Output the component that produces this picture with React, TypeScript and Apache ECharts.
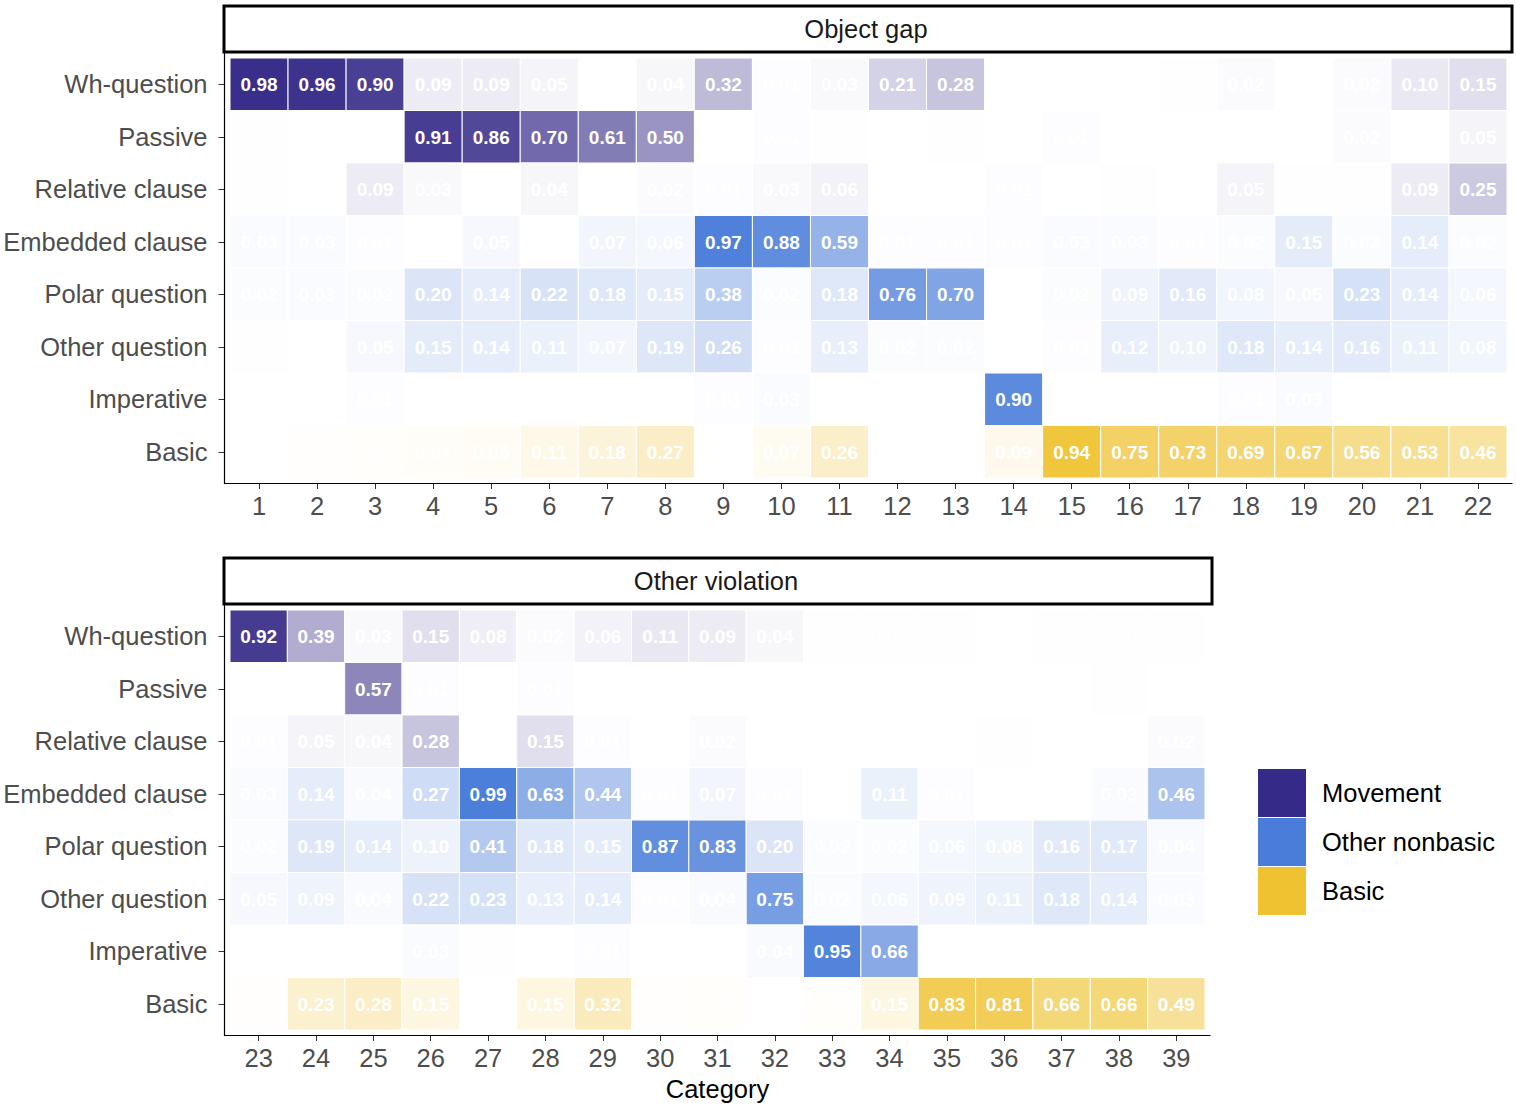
import React, { useEffect, useRef } from "react";
import * as echarts from "echarts";

// Row labels (top to bottom) and the group each construction belongs to
const constructions = [
  "Wh-question",
  "Passive",
  "Relative clause",
  "Embedded clause",
  "Polar question",
  "Other question",
  "Imperative",
  "Basic",
];
const constructionGroups = [
  "Movement",
  "Movement",
  "Movement",
  "Other nonbasic",
  "Other nonbasic",
  "Other nonbasic",
  "Other nonbasic",
  "Basic",
];
const groupNames = ["Movement", "Other nonbasic", "Basic"];
const groupColors = ["#352A87", "#4A7DD9", "#EFC231"];

// Panel "Object gap": categories 1-22 (null = no cell)
const objectGapCategories = ["1", "2", "3", "4", "5", "6", "7", "8", "9", "10", "11", "12", "13", "14", "15", "16", "17", "18", "19", "20", "21", "22"];
const ogWhQuestion = [0.98, 0.96, 0.9, 0.09, 0.09, 0.05, null, 0.04, 0.32, 0.01, 0.03, 0.21, 0.28, null, null, null, 0.003, 0.02, null, 0.02, 0.1, 0.15];
const ogPassive = [0.003, null, null, 0.91, 0.86, 0.7, 0.61, 0.5, null, 0.01, 0.003, null, 0.003, null, 0.01, null, null, null, null, 0.02, null, 0.05];
const ogRelative = [0.003, null, 0.09, 0.03, null, 0.04, null, 0.02, 0.01, 0.03, 0.06, null, null, 0.01, null, 0.003, null, 0.05, 0.003, 0.003, 0.09, 0.25];
const ogEmbedded = [0.03, 0.03, 0.01, null, 0.05, null, 0.07, 0.06, 0.97, 0.88, 0.59, 0.01, 0.01, 0.01, 0.03, 0.03, 0.01, 0.02, 0.15, 0.02, 0.14, 0.02];
const ogPolar = [0.02, 0.03, 0.02, 0.2, 0.14, 0.22, 0.18, 0.15, 0.38, 0.02, 0.18, 0.76, 0.7, null, 0.02, 0.09, 0.16, 0.08, 0.05, 0.23, 0.14, 0.06];
const ogOtherQuestion = [0.003, null, 0.05, 0.15, 0.14, 0.11, 0.07, 0.19, 0.26, 0.01, 0.13, 0.02, 0.02, null, 0.01, 0.12, 0.1, 0.18, 0.14, 0.16, 0.11, 0.08];
const ogImperative = [null, null, 0.01, null, null, null, null, null, 0.01, 0.03, null, null, null, 0.9, null, null, null, 0.01, 0.03, null, null, null];
const ogBasic = [null, 0.01, 0.02, 0.04, 0.05, 0.11, 0.18, 0.27, null, 0.07, 0.26, null, null, 0.09, 0.94, 0.75, 0.73, 0.69, 0.67, 0.56, 0.53, 0.46];

// Panel "Other violation": categories 23-39
const otherViolationCategories = ["23", "24", "25", "26", "27", "28", "29", "30", "31", "32", "33", "34", "35", "36", "37", "38", "39"];
const ovWhQuestion = [0.92, 0.39, 0.03, 0.15, 0.08, 0.02, 0.06, 0.11, 0.09, 0.04, 0.003, 0.003, 0.003, null, 0.003, 0.003, 0.003];
const ovPassive = [null, null, 0.57, 0.01, null, 0.01, null, null, null, null, null, null, null, null, null, 0.003, null];
const ovRelative = [0.01, 0.05, 0.04, 0.28, null, 0.15, 0.01, null, 0.02, null, null, null, null, 0.003, null, null, 0.02];
const ovEmbedded = [0.03, 0.14, 0.04, 0.27, 0.99, 0.63, 0.44, 0.01, 0.07, 0.01, null, 0.11, 0.01, null, null, 0.03, 0.46];
const ovPolar = [0.02, 0.19, 0.14, 0.1, 0.41, 0.18, 0.15, 0.87, 0.83, 0.2, 0.02, 0.02, 0.06, 0.08, 0.16, 0.17, 0.04];
const ovOtherQuestion = [0.05, 0.09, 0.04, 0.22, 0.23, 0.13, 0.14, 0.01, 0.04, 0.75, 0.02, 0.06, 0.09, 0.11, 0.18, 0.14, 0.03];
const ovImperative = [null, null, null, 0.03, 0.003, null, 0.01, null, null, 0.04, 0.95, 0.66, null, null, null, null, null];
const ovBasic = [0.01, 0.23, 0.28, 0.15, null, 0.15, 0.32, 0.01, 0.02, null, 0.02, 0.15, 0.83, 0.81, 0.66, 0.66, 0.49];

const objectGapRows = [ogWhQuestion, ogPassive, ogRelative, ogEmbedded, ogPolar, ogOtherQuestion, ogImperative, ogBasic];
const otherViolationRows = [ovWhQuestion, ovPassive, ovRelative, ovEmbedded, ovPolar, ovOtherQuestion, ovImperative, ovBasic];

const FONT = '"Liberation Sans", Arial, Helvetica, sans-serif';
const TEXT_SIZE = 25.5;

// Panel geometry (tile area); axis lines sit a small expansion outside it
const TOP_PANEL = { left: 230, top: 58, width: 1277, height: 420 };
const BOTTOM_PANEL = { left: 230, top: 610, width: 975, height: 420 };
const EXPAND = 5.5;

function hexToRgba(hex: string, a: number) {
  const n = parseInt(hex.slice(1), 16);
  return `rgba(${(n >> 16) & 255},${(n >> 8) & 255},${n & 255},${a})`;
}

function cellsFor(rows: (number | null)[][], group: string) {
  const out: number[][] = [];
  rows.forEach((row, yi) => {
    if (constructionGroups[yi] !== group) return;
    row.forEach((v, xi) => {
      if (v !== null) out.push([xi, yi, v]);
    });
  });
  return out;
}

function renderCell(color: string) {
  return (_params: any, api: any) => {
    const xi = api.value(0);
    const yi = api.value(1);
    const v = api.value(2);
    const c = api.coord([xi, yi]);
    const s = api.size([1, 1]);
    return {
      type: "group",
      children: [
        {
          type: "rect",
          shape: { x: c[0] - s[0] / 2, y: c[1] - s[1] / 2, width: s[0], height: s[1] },
          style: { fill: hexToRgba(color, v), stroke: "#ffffff", lineWidth: 1 },
        },
        {
          type: "text",
          x: c[0],
          y: c[1] + 0.5,
          style: {
            text: v.toFixed(2),
            fill: "#ffffff",
            font: `bold 19px ${FONT}`,
            align: "center",
            verticalAlign: "middle",
          },
        },
      ],
    };
  };
}

function buildOption() {
  const axisTick = { show: true, alignWithLabel: true, length: 6, lineStyle: { color: "#333333", width: 1 } };
  const xAxisBase = {
    type: "category",
    position: "bottom",
    offset: 5,
    axisLine: { show: false },
    axisTick,
    axisLabel: { interval: 0, color: "#4d4d4d", fontSize: TEXT_SIZE, fontFamily: FONT, margin: 10 },
    splitLine: { show: false },
  };
  const yAxisBase = {
    type: "category",
    data: constructions,
    inverse: true,
    offset: EXPAND,
    axisLine: { show: false },
    axisTick,
    axisLabel: {
      interval: 0,
      color: "#4d4d4d",
      fontSize: TEXT_SIZE,
      fontFamily: FONT,
      margin: 17,
      padding: [4, 0, 0, 0],
    },
    splitLine: { show: false },
  };

  const series: any[] = [];
  [objectGapRows, otherViolationRows].forEach((rows, panel) => {
    groupNames.forEach((g, gi) => {
      series.push({
        type: "custom",
        name: g,
        xAxisIndex: panel,
        yAxisIndex: panel,
        itemStyle: { color: groupColors[gi] },
        encode: { x: 0, y: 1 },
        data: cellsFor(rows, g),
        renderItem: renderCell(groupColors[gi]),
      });
    });
  });

  const axisL = (p: typeof TOP_PANEL, topY: number) => ({
    type: "polyline",
    shape: {
      points: [
        [p.left - EXPAND, topY],
        [p.left - EXPAND, p.top + p.height + EXPAND],
        [p.left + p.width + EXPAND, p.top + p.height + EXPAND],
      ],
    },
    style: { stroke: "#000000", lineWidth: 1.2, fill: null },
    z: 10,
  });

  const strip = (x: number, y: number, w: number, h: number, label: string) => [
    {
      type: "rect",
      shape: { x, y, width: w, height: h },
      style: { fill: "#ffffff", stroke: "#000000", lineWidth: 3 },
      z: 10,
    },
    {
      type: "text",
      x: x + w / 2 - 2,
      y: y + h / 2,
      style: { text: label, fill: "#1a1a1a", font: `${TEXT_SIZE}px ${FONT}`, align: "center", verticalAlign: "middle" },
      z: 11,
    },
  ];

  return {
    animation: false,
    backgroundColor: "#ffffff",
    color: groupColors,
    grid: [
      { ...TOP_PANEL, containLabel: false },
      { ...BOTTOM_PANEL, containLabel: false },
    ],
    xAxis: [
      { ...xAxisBase, gridIndex: 0, data: objectGapCategories },
      {
        ...xAxisBase,
        gridIndex: 1,
        data: otherViolationCategories,
        name: "Category",
        nameLocation: "middle",
        nameGap: 41,
        nameTextStyle: { color: "#000000", fontSize: TEXT_SIZE, fontFamily: FONT },
      },
    ],
    yAxis: [
      { ...yAxisBase, gridIndex: 0 },
      { ...yAxisBase, gridIndex: 1 },
    ],
    legend: {
      data: groupNames,
      orient: "vertical",
      left: 1258,
      top: 769,
      padding: 0,
      itemWidth: 48,
      itemHeight: 48,
      itemGap: 1,
      icon: "rect",
      selectedMode: false,
      textStyle: { color: "#000000", fontSize: TEXT_SIZE, fontFamily: FONT, padding: [2, 0, 0, 11] },
    },
    graphic: [
      ...strip(224, 6, 1288, 46, "Object gap"),
      ...strip(224, 558, 988, 46, "Other violation"),
      axisL(TOP_PANEL, 53),
      axisL(BOTTOM_PANEL, 605),
    ],
    series,
  };
}

export default function App() {
  const ref = useRef<HTMLDivElement>(null);
  useEffect(() => {
    if (!ref.current) return;
    const chart = echarts.init(ref.current, undefined, { renderer: "svg" });
    chart.setOption(buildOption() as any);
    return () => chart.dispose();
  }, []);
  return (
    <div
      ref={ref}
      style={{ position: "absolute", left: 0, top: 0, width: 1516, height: 1107, background: "#ffffff" }}
    />
  );
}
